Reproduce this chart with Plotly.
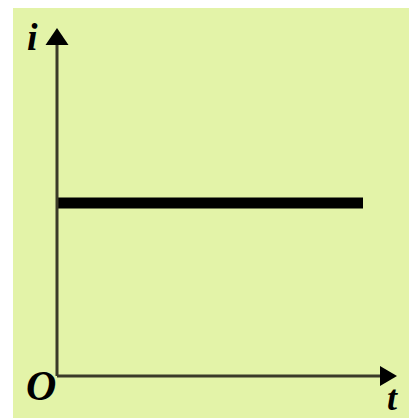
import plotly.graph_objects as go

# data: constant current i over time t
t_values = [0.0, 1.0]
i_values = [1.0, 1.0]
axis_labels = ["i", "t", "O"]

OFF = 8  # page body margin
W, H = 417 - OFF, 418 - OFF
ox, oy = 57 - OFF, 376 - OFF  # origin in figure pixels
sx, sy = 306, 173
x_range = [-ox / sx, (W - ox) / sx]
y_range = [-(H - oy) / sy, oy / sy]

bg = "#e3f3a8"
axis_col = "#3a3a28"

fig = go.Figure()

fig.add_trace(go.Scatter(x=t_values, y=i_values, mode="lines",
                         line=dict(color="black", width=11), hoverinfo="skip"))

shapes = []
# green panel
shapes.append(dict(type="rect", xref="paper", yref="paper", x0=(13 - OFF) / W, x1=(413 - OFF) / W,
                   y0=0, y1=1, fillcolor=bg, line=dict(width=0), layer="below"))
# axes lines
y_top = (376 - 45) / sy
y_tip = (376 - 28) / sy
x_end = (380 - 57) / sx
x_tip = (397 - 57) / sx
shapes.append(dict(type="line", x0=0, x1=0, y0=0, y1=y_top, line=dict(color=axis_col, width=3)))
shapes.append(dict(type="line", x0=0, x1=x_end, y0=0, y1=0, line=dict(color=axis_col, width=3)))
hw_x = 11.5 / sx
hw_y = 10 / sy
shapes.append(dict(type="path",
                   path=f"M {-hw_x} {y_top} L {hw_x} {y_top} L 0 {y_tip} Z",
                   fillcolor="black", line=dict(width=0)))
shapes.append(dict(type="path",
                   path=f"M {x_end} {-hw_y} L {x_end} {hw_y} L {x_tip} 0 Z",
                   fillcolor="black", line=dict(width=0)))

font = dict(family="Liberation Serif", size=38, color="black")
annotations = [
    dict(x=(32 - 57) / sx, y=(376 - 37) / sy, text=f"<b><i>{axis_labels[0]}</i></b>",
         showarrow=False, font=font, xanchor="center", yanchor="middle"),
    dict(x=(392 - 57) / sx, y=(376 - 398) / sy, text=f"<b><i>{axis_labels[1]}</i></b>",
         showarrow=False, font=dict(family="Liberation Serif", size=36, color="black"),
         xanchor="center", yanchor="middle"),
    dict(x=(41 - 57) / sx, y=(376 - 386) / sy, text=f"<b><i>{axis_labels[2]}</i></b>",
         showarrow=False, font=dict(family="Liberation Serif", size=42, color="black"),
         xanchor="center", yanchor="middle"),
]

fig.update_layout(
    width=W, height=H, margin=dict(l=0, r=0, t=0, b=0),
    paper_bgcolor="white", plot_bgcolor="rgba(0,0,0,0)",
    showlegend=False, shapes=shapes, annotations=annotations,
    xaxis=dict(range=x_range, visible=False, fixedrange=True),
    yaxis=dict(range=y_range, visible=False, fixedrange=True),
)

fig.write_html("out.html", config={"displayModeBar": False})
